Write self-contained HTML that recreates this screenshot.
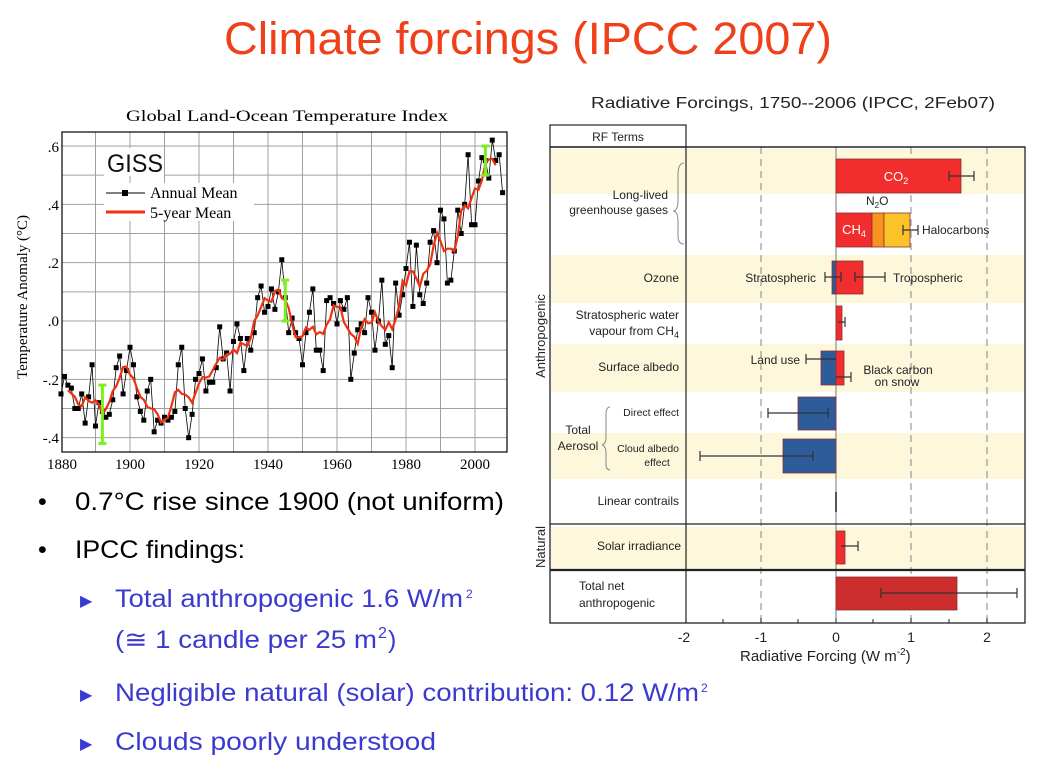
<!DOCTYPE html>
<html><head><meta charset="utf-8"><style>
html,body{margin:0;padding:0;background:#fff;}
svg{display:block;font-family:"Liberation Sans",sans-serif;}
.serif{font-family:"Liberation Serif",serif;}
</style></head><body>
<svg id="s" width="1053" height="768" viewBox="0 0 1053 768" xmlns="http://www.w3.org/2000/svg">
<text x="528" y="54" font-size="45" fill="#f0401a" text-anchor="middle" textLength="608" lengthAdjust="spacingAndGlyphs">Climate forcings (IPCC 2007)</text>

<text class="serif" x="287" y="121" font-size="16" text-anchor="middle" textLength="322" lengthAdjust="spacingAndGlyphs">Global Land-Ocean Temperature Index</text>
<g id="grid" stroke="#a0a0a0" stroke-width="1"></g>
<rect x="62" y="132" width="445" height="320" fill="none" stroke="#000" stroke-width="1.2"/>
<g class="serif" font-size="15" fill="#000" text-anchor="end">
<text x="59" y="152">.6</text><text x="59" y="210">.4</text><text x="59" y="268">.2</text>
<text x="59" y="326">.0</text><text x="59" y="385">-.2</text><text x="59" y="443">-.4</text>
</g>
<g class="serif" font-size="15" fill="#000" text-anchor="middle">
<text x="62" y="469">1880</text><text x="130" y="469">1900</text><text x="199" y="469">1920</text>
<text x="268" y="469">1940</text><text x="337" y="469">1960</text><text x="406" y="469">1980</text><text x="475" y="469">2000</text>
</g>
<text class="serif" x="0" y="0" font-size="15" text-anchor="middle" transform="translate(27,297) rotate(-90)">Temperature Anomaly (°C)</text>
<rect x="104" y="148" width="60" height="28" fill="#fff"/>
<text x="107" y="172" font-size="25" fill="#111" textLength="56" lengthAdjust="spacingAndGlyphs">GISS</text>
<rect x="104" y="183" width="150" height="38" fill="#fff"/>
<line x1="106" y1="193" x2="145" y2="193" stroke="#000" stroke-width="1"/>
<rect x="122" y="190" width="6" height="6" fill="#000"/>
<text class="serif" x="150" y="198" font-size="16">Annual Mean</text>
<line x1="106" y1="212" x2="145" y2="212" stroke="#f03010" stroke-width="3"/>
<text class="serif" x="150" y="218" font-size="16">5-year Mean</text>
<g id="series"></g>

<g font-size="25" fill="#000">
<text x="38" y="510">•</text>
<text x="75" y="510" textLength="429" lengthAdjust="spacingAndGlyphs">0.7°C rise since 1900 (not uniform)</text>
<text x="38" y="558">•</text>
<text x="75" y="558" textLength="170" lengthAdjust="spacingAndGlyphs">IPCC findings:</text>
</g>
<g font-size="25" fill="#3a3ad0">
<text x="80" y="606" font-size="16">▶</text>
<text x="115" y="607" textLength="348" lengthAdjust="spacingAndGlyphs">Total anthropogenic 1.6 W/m</text>
<text x="466" y="598" font-size="12">2</text>
<text x="115" y="648" textLength="262" lengthAdjust="spacingAndGlyphs">(≅ 1 candle per 25 m</text>
<text x="378" y="638" font-size="16">2</text>
<text x="388" y="648">)</text>
<text x="80" y="700" font-size="16">▶</text>
<text x="115" y="701" textLength="584" lengthAdjust="spacingAndGlyphs">Negligible natural (solar) contribution: 0.12 W/m</text>
<text x="701" y="692" font-size="12">2</text>
<text x="80" y="749" font-size="16">▶</text>
<text x="115" y="750" textLength="321" lengthAdjust="spacingAndGlyphs">Clouds poorly understood</text>
</g>

<text x="793" y="108" font-size="16" text-anchor="middle" fill="#222" textLength="404" lengthAdjust="spacingAndGlyphs">Radiative Forcings, 1750--2006 (IPCC, 2Feb07)</text>
<g fill="#fdf8dc">
<rect x="551" y="149" width="473" height="45"/>
<rect x="551" y="255" width="473" height="48"/>
<rect x="551" y="344" width="473" height="48"/>
<rect x="551" y="433" width="473" height="46"/>
<rect x="551" y="527" width="473" height="42"/>
</g>
<g stroke="#999" stroke-width="1.2" stroke-dasharray="7,5">
<line x1="761" y1="147" x2="761" y2="622"/>
<line x1="911" y1="147" x2="911" y2="622"/>
<line x1="987" y1="147" x2="987" y2="622"/>
</g>
<line x1="836" y1="147" x2="836" y2="622" stroke="#777" stroke-width="1"/>
<g stroke="#8a3030" stroke-width="0.8">
<rect x="836" y="159" width="125" height="34" fill="#f22d2d"/>
<rect x="836" y="213" width="36" height="34" fill="#f22d2d"/>
<rect x="872" y="213" width="12" height="34" fill="#f7931e"/>
<rect x="884" y="213" width="26" height="34" fill="#fcc22a"/>
<rect x="832" y="261" width="4" height="33" fill="#2e5c9a"/>
<rect x="836" y="261" width="27" height="33" fill="#f22d2d"/>
<rect x="836" y="306" width="6" height="34" fill="#f22d2d"/>
<rect x="821" y="351" width="15" height="34" fill="#2e5c9a"/>
<rect x="836" y="351" width="8" height="34" fill="#f22d2d"/>
<rect x="798" y="397" width="38" height="33" fill="#2e5c9a"/>
<rect x="783" y="439" width="53" height="34" fill="#2e5c9a"/>
<rect x="836" y="531" width="9" height="33" fill="#f22d2d"/>
<rect x="836" y="577" width="121" height="33" fill="#cc2e2e"/>
</g>
<line x1="836" y1="492" x2="836" y2="512" stroke="#555" stroke-width="2"/>
<g stroke="#333" stroke-width="1.2" fill="none">
<path d="M949 176H974M949 171v10M974 171v10"/>
<path d="M903 230H918M903 225v10M918 225v10"/>
<path d="M825 277H841M825 272v10M841 272v10"/>
<path d="M855 277H885M855 272v10M885 272v10"/>
<path d="M838 322H845M845 317v10"/>
<path d="M806 359H836M806 354v10"/>
<path d="M836 377H851M851 372v10"/>
<path d="M768 413H828M768 408v10M828 408v10"/>
<path d="M700 456H813M700 451v10M813 451v10"/>
<path d="M841 546H858M858 541v10"/>
<path d="M881 593H1017M881 588v10M1017 588v10"/>
</g>
<g fill="none" stroke="#222">
<rect x="550" y="125" width="136" height="22" stroke-width="1.2"/>
<line x1="550" y1="147" x2="1025" y2="147" stroke-width="1.2"/>
<rect x="550" y="147" width="475" height="476" stroke-width="1.3"/>
<line x1="686" y1="147" x2="686" y2="623" stroke-width="1.2"/>
<line x1="550" y1="524" x2="1025" y2="524" stroke-width="1.2"/>
<line x1="550" y1="570" x2="1025" y2="570" stroke-width="2.2"/>
<path d="M684 163 Q678 163 678 175 V200 Q678 211 673 211 Q678 211 678 222 V236 Q678 244 684 244" stroke="#888" stroke-width="1"/>
<path d="M610 407 Q606 407 606 415 V437 Q606 444 602 445 Q606 446 606 453 V464 Q606 470 610 470" stroke="#888" stroke-width="1"/>
</g>
<g stroke="#222" stroke-width="1">
<path d="M686 623v-5M723 623v-4M761 623v-5M798 623v-4M836 623v-5M873 623v-4M911 623v-5M949 623v-4M987 623v-5"/>
</g>
<g font-size="12" fill="#222">
<text x="618" y="141" text-anchor="middle">RF Terms</text>
<text x="668" y="199" text-anchor="end">Long-lived</text>
<text x="668" y="214" text-anchor="end">greenhouse gases</text>
<text x="679" y="282" text-anchor="end">Ozone</text>
<text x="679" y="319" text-anchor="end">Stratospheric water</text>
<text x="679" y="335" text-anchor="end">vapour from CH<tspan font-size="9" dy="3">4</tspan></text>
<text x="679" y="371" text-anchor="end">Surface albedo</text>
<text x="679" y="505" text-anchor="end">Linear contrails</text>
<text x="681" y="550" text-anchor="end">Solar irradiance</text>
<text x="579" y="590">Total net</text>
<text x="579" y="607">anthropogenic</text>
<text x="578" y="434" text-anchor="middle">Total</text>
<text x="578" y="450" text-anchor="middle">Aerosol</text>
<text x="816" y="282" text-anchor="end">Stratospheric</text>
<text x="893" y="282">Tropospheric</text>
<text x="922" y="234">Halocarbons</text>
<text x="800" y="364" text-anchor="end">Land use</text>
<text x="898" y="374" text-anchor="middle">Black carbon</text>
<text x="897" y="386" text-anchor="middle">on snow</text>
<text x="866" y="205">N<tspan font-size="8" dy="3">2</tspan><tspan dy="-3">O</tspan></text>
</g>
<g font-size="10.5" fill="#222">
<text x="679" y="416" text-anchor="end">Direct effect</text>
<text x="679" y="452" text-anchor="end">Cloud albedo</text>
<text x="657" y="466" text-anchor="middle">effect</text>
</g>
<text x="896" y="181" font-size="13" fill="#fff" text-anchor="middle">CO<tspan font-size="9" dy="3">2</tspan></text>
<text x="854" y="234" font-size="13" fill="#fff" text-anchor="middle">CH<tspan font-size="9" dy="3">4</tspan></text>
<text font-size="13" fill="#222" text-anchor="middle" transform="translate(545,336) rotate(-90)">Anthropogenic</text>
<text font-size="13" fill="#222" text-anchor="middle" transform="translate(545,547) rotate(-90)">Natural</text>
<g font-size="14" fill="#222" text-anchor="middle">
<text x="684" y="642">-2</text><text x="761" y="642">-1</text><text x="836" y="642">0</text>
<text x="911" y="642">1</text><text x="987" y="642">2</text>
</g>
<text x="740" y="661" font-size="15" fill="#222">Radiative Forcing  (W m<tspan font-size="10" dy="-6">-2</tspan><tspan dy="6">)</tspan></text>
</svg>
<script>
var d=[-.25,-.19,-.22,-.23,-.30,-.30,-.25,-.35,-.26,-.15,-.36,-.28,-.31,-.33,-.32,-.27,-.16,-.12,-.25,-.17,-.09,-.15,-.26,-.31,-.34,-.24,-.20,-.38,-.34,-.35,-.33,-.34,-.33,-.31,-.15,-.09,-.30,-.40,-.32,-.20,-.18,-.13,-.24,-.21,-.21,-.16,-.02,-.13,-.11,-.24,-.07,-.01,-.06,-.17,-.06,-.10,-.04,.08,.12,.03,.05,.11,.04,.10,.21,.08,-.04,.01,-.04,-.06,-.15,-.04,.03,.11,-.10,-.10,-.17,.07,.08,.06,-.01,.07,.04,.08,-.20,-.11,-.03,-.01,-.04,.08,.03,-.10,.00,.14,-.08,-.05,-.16,.13,.02,.09,.18,.27,.05,.26,.09,.06,.13,.27,.31,.20,.38,.35,.13,.14,.24,.38,.30,.40,.57,.33,.33,.48,.56,.55,.49,.62,.55,.57,.44];
function X(y){return 61+(y-1880)*3.45}function Y(v){return 321-v*291.7}
var ns="http://www.w3.org/2000/svg",g=document.getElementById('grid'),s=document.getElementById('series');
function el(t,a,p){var e=document.createElementNS(ns,t);for(var k in a)e.setAttribute(k,a[k]);p.appendChild(e);return e}
for(var yr=1890;yr<2010;yr+=10)el('line',{x1:X(yr),x2:X(yr),y1:132,y2:452},g);
for(var v=-0.4;v<0.65;v+=0.1)el('line',{x1:62,x2:507,y1:Y(v),y2:Y(v)},g);
var p=[];for(var i=0;i<d.length;i++)p.push(X(1880+i).toFixed(1)+','+Y(d[i]).toFixed(1));
el('polyline',{points:p.join(' '),fill:'none',stroke:'#000','stroke-width':0.8},s);
for(i=0;i<d.length;i++)el('rect',{x:X(1880+i)-2.5,y:Y(d[i])-2.5,width:5,height:5,fill:'#000'},s);
var q=[];for(i=2;i<d.length-2;i++){var m=(d[i-2]+d[i-1]+d[i]+d[i+1]+d[i+2])/5;q.push(X(1880+i).toFixed(1)+','+Y(m).toFixed(1))}
el('polyline',{points:q.join(' '),fill:'none',stroke:'#f03010','stroke-width':2.2},s);
[[1892,-.22,-.42],[1945,.14,0],[2003,.6,.5]].forEach(function(b){var x=X(b[0]);
el('path',{d:'M'+x+' '+Y(b[1])+'V'+Y(b[2])+'M'+(x-4)+' '+Y(b[1])+'h8M'+(x-4)+' '+Y(b[2])+'h8',stroke:'#7cf01c','stroke-width':3,fill:'none'},s)});
</script>
</body></html>
